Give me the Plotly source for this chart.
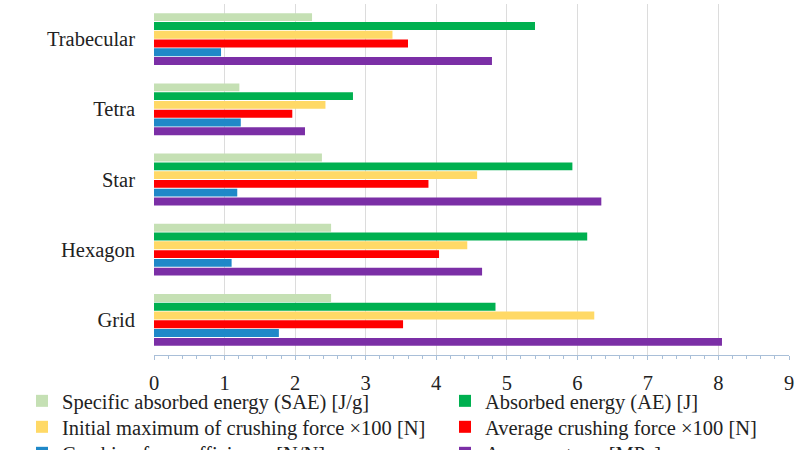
import plotly.graph_objects as go

categories = ["Trabecular", "Tetra", "Star", "Hexagon", "Grid"]

series_names = [
    "Specific absorbed energy (SAE) [J/g]",
    "Absorbed energy (AE) [J]",
    "Initial maximum of crushing force ×100 [N]",
    "Average crushing force ×100 [N]",
    "Crushing force efficiency [N/N]",
    "Average stress [MPa]",
]

sae = [2.24, 1.21, 2.38, 2.51, 2.51]
ae = [5.40, 2.82, 5.93, 6.14, 4.84]
init_max = [3.38, 2.43, 4.58, 4.44, 6.24]
avg_force = [3.60, 1.96, 3.89, 4.04, 3.53]
cfe = [0.95, 1.23, 1.18, 1.10, 1.77]
avg_stress = [4.79, 2.14, 6.34, 4.65, 8.05]

series_values = [sae, ae, init_max, avg_force, cfe, avg_stress]
colors = ["#c5e0b4", "#00b050", "#ffd966", "#ff0000", "#1f88c8", "#7b2fa6"]

x_ticks = list(range(0, 10))

FONT = "Liberation Serif"
FS = 20.5

# legend entry placement (two columns, three rows)
legend_ids = ["legend", "legend2", "legend3", "legend4", "legend5", "legend6"]
legend_x = [0.0271, 0.5480, 0.0271, 0.5480, 0.0271, 0.5480]
legend_y = [0.1533, 0.1533, 0.0956, 0.0956, 0.0378, 0.0378]

fig = go.Figure()
for name, vals, col, lid in zip(series_names, series_values, colors, legend_ids):
    fig.add_trace(go.Bar(
        y=categories, x=vals, name=name, orientation="h",
        marker=dict(color=col, line=dict(width=0)),
        legend=lid,
    ))

layout_legends = {}
for lid, lx, ly in zip(legend_ids, legend_x, legend_y):
    layout_legends[lid] = dict(
        orientation="v", xref="container", yref="container",
        x=lx, xanchor="left", y=ly, yanchor="top",
        font=dict(family=FONT, size=FS, color="#222222"),
        itemwidth=30, bgcolor="rgba(0,0,0,0)", borderwidth=0,
    )

fig.update_layout(
    width=812, height=450,
    margin=dict(l=154, r=23, t=4, b=95, autoexpand=False),
    barmode="group", bargap=0.25, bargroupgap=0.1,
    plot_bgcolor="white", paper_bgcolor="white",
    font=dict(family=FONT, size=FS, color="#222222"),
    showlegend=True,
    **layout_legends,
    xaxis=dict(
        range=[0, 9], tickvals=x_ticks, ticktext=[str(t) for t in x_ticks],
        showgrid=True, gridcolor="#dcdcdc", gridwidth=1,
        zeroline=False, showline=True, linecolor="#a9bfd8", linewidth=1,
        ticks="outside", ticklen=4, tickcolor="#a9bfd8", ticklabelstandoff=5,
        minor=dict(dtick=0.2, ticks="outside", ticklen=3, tickcolor="#a9bfd8", showgrid=False),
        tickfont=dict(family=FONT, size=FS, color="#222222"),
        fixedrange=True,
    ),
    xaxis2=dict(
        overlaying="x", anchor="y", side="bottom", range=[0, 9],
        tickvals=x_ticks, showticklabels=False, showgrid=False,
        zeroline=False, showline=False,
        ticks="inside", ticklen=3, tickcolor="#a9bfd8",
        minor=dict(dtick=0.2, ticks="inside", ticklen=2, tickcolor="#a9bfd8", showgrid=False),
        fixedrange=True,
    ),
    yaxis=dict(
        categoryorder="array", categoryarray=categories,
        autorange="reversed", showgrid=False, showline=False, zeroline=False,
        ticks="", ticklabelstandoff=18,
        tickfont=dict(family=FONT, size=FS, color="#222222"),
        fixedrange=True,
    ),
)

fig.write_html("out.html", config={"displayModeBar": False},
               post_script="document.body.style.margin='0';")
